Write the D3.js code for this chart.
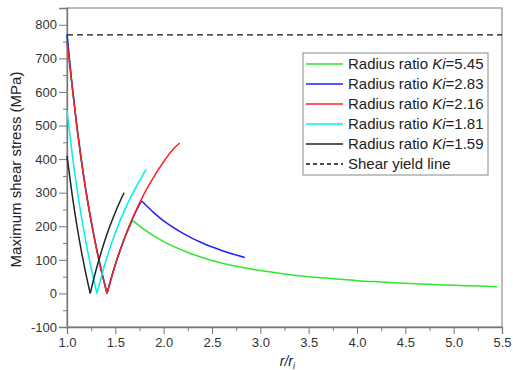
<!DOCTYPE html>
<html>
<head>
<meta charset="utf-8">
<script src="https://cdn.jsdelivr.net/npm/d3@7"></script>
<style>
  body { margin: 0; background: #fff; }
  svg { font-family: "Liberation Sans", Arial, sans-serif; }
  .axis path, .axis line { stroke: #777; }
  .axis text { fill: #333; font-size: 13px; }
</style>
</head>
<body>
<svg id="chart" width="513" height="370"></svg>
<script>
// values
var seriesNames = ["5.45", "2.83", "2.16", "1.81", "1.59"];
var seriesColors = ["#2ee62e", "#1f1fff", "#ff2020", "#00f0f0", "#222222"];

var x545 = [1.0, 1.05, 1.1, 1.15, 1.2, 1.25, 1.3, 1.35, 1.414, 1.5, 1.6, 1.68, 1.8, 2.0, 2.25, 2.5, 2.75, 3.0, 3.25, 3.5, 3.75, 4.0, 4.25, 4.5, 4.75, 5.0, 5.25, 5.45];
var y545 = [768, 627, 503, 394, 299, 216, 141, 75, 0, 86, 168, 217, 190, 154, 122, 98, 81, 68, 58, 50, 44, 38, 34, 30, 27, 24, 22, 20];

var x283 = [1.0, 1.05, 1.1, 1.15, 1.2, 1.25, 1.3, 1.35, 1.414, 1.5, 1.6, 1.7, 1.77, 1.9, 2.0, 2.2, 2.4, 2.6, 2.84];
var y283 = [771, 627, 503, 394, 299, 216, 141, 75, 0, 86, 168, 237, 276, 240, 216, 179, 150, 128, 107];

var x216 = [1.0, 1.05, 1.1, 1.15, 1.2, 1.25, 1.3, 1.35, 1.414, 1.5, 1.6, 1.7, 1.8, 1.9, 2.0, 2.1, 2.165];
var y216 = [748, 625, 500, 392, 297, 214, 140, 74, 0, 86, 168, 238, 298, 348, 392, 430, 448];

var x181 = [1.0, 1.05, 1.1, 1.15, 1.2, 1.25, 1.31, 1.4, 1.5, 1.6, 1.7, 1.82];
var y181 = [545, 424, 318, 227, 146, 75, 0, 95, 181, 251, 309, 370];

var x159 = [1.0, 1.05, 1.1, 1.15, 1.2, 1.24, 1.3, 1.35, 1.4, 1.45, 1.5, 1.59];
var y159 = [410, 301, 206, 124, 52, 0, 69, 119, 165, 205, 242, 300];

var yieldStress = 770;

var xTicks = [1.0, 1.5, 2.0, 2.5, 3.0, 3.5, 4.0, 4.5, 5.0, 5.5];
var yTicks = [-100, 0, 100, 200, 300, 400, 500, 600, 700, 800];

var svg = d3.select("#chart"),
    margin = {top: 8, right: 11, bottom: 43, left: 67},
    width = +svg.attr("width") - margin.left - margin.right,
    height = +svg.attr("height") - margin.top - margin.bottom;

var x = d3.scaleLinear().domain([1.0, 5.5]).range([0, width]),
    y = d3.scaleLinear().domain([-100, 850]).range([height, 0]);

var g = svg.append("g")
    .attr("transform", "translate(" + margin.left + "," + margin.top + ")");

// frame
g.append("rect")
    .attr("width", width)
    .attr("height", height)
    .attr("fill", "none")
    .attr("stroke", "#999")
    .attr("stroke-width", 1.3);

// minor ticks
var xMinor = d3.range(1.25, 5.5, 0.5);
var yMinor = d3.range(-50, 850, 100);

g.append("g")
    .attr("class", "axis")
    .attr("transform", "translate(0," + height + ")")
    .call(d3.axisBottom(x).tickValues(xMinor).tickSize(4).tickFormat(""))
    .select(".domain").remove();

g.append("g")
    .attr("class", "axis")
    .call(d3.axisLeft(y).tickValues(yMinor).tickSize(4).tickFormat(""))
    .select(".domain").remove();

g.append("g")
    .attr("class", "axis")
    .attr("transform", "translate(0," + height + ")")
    .call(d3.axisBottom(x).tickValues(xTicks).tickSize(7).tickPadding(4).tickFormat(d3.format(".1f")))
    .select(".domain").attr("stroke-width", 1.3);

// plain hyphen for negatives, like the original
g.append("g")
    .attr("class", "axis")
    .call(d3.axisLeft(y).tickValues(yTicks).tickSize(8).tickPadding(2)
        .tickFormat(function (d) { return String(d); }))
    .select(".domain").attr("stroke-width", 1.3);

// axis titles
svg.append("text")
    .attr("transform", "translate(21," + (margin.top + height / 2 + 2) + ") rotate(-90)")
    .attr("text-anchor", "middle")
    .attr("fill", "#222")
    .style("font-size", "15px")
    .text("Maximum shear stress (MPa)");

var xt = svg.append("text")
    .attr("x", margin.left + x(3.28))
    .attr("y", 366)
    .attr("text-anchor", "middle")
    .attr("fill", "#222")
    .style("font-size", "14px")
    .style("font-style", "italic");
xt.append("tspan").text("r/r");
xt.append("tspan").attr("dy", 3).style("font-size", "9px").text("i");

// shear yield line
g.append("line")
    .attr("x1", 0)
    .attr("x2", width)
    .attr("y1", y(yieldStress))
    .attr("y2", y(yieldStress))
    .attr("stroke", "#111")
    .attr("stroke-width", 1.3)
    .attr("stroke-dasharray", "6,4");

// series, split into monotone pieces so the V corners stay sharp
var allX = [x545, x283, x216, x181, x159];
var allY = [y545, y283, y216, y181, y159];

var line = d3.line()
    .x(function (d) { return x(d[0]); })
    .y(function (d) { return y(d[1]); })
    .curve(d3.curveMonotoneX);

function pieces(xs, ys) {
    var out = [], cur = [[xs[0], ys[0]]], dir = 0;
    for (var i = 1; i < xs.length; i++) {
        var d = Math.sign(ys[i] - ys[i - 1]);
        if (dir !== 0 && d !== dir) {
            out.push(cur);
            cur = [[xs[i - 1], ys[i - 1]]];
        }
        dir = d;
        cur.push([xs[i], ys[i]]);
    }
    out.push(cur);
    return out;
}

allX.forEach(function (xs, i) {
    pieces(xs, allY[i]).forEach(function (p) {
        g.append("path")
            .datum(p)
            .attr("fill", "none")
            .attr("stroke", seriesColors[i])
            .attr("stroke-width", 1.5)
            .attr("d", line);
    });
});

// legend
var legend = svg.append("g").attr("transform", "translate(303,53)");
legend.append("rect")
    .attr("width", 185)
    .attr("height", 122)
    .attr("fill", "#fff")
    .attr("stroke", "#888")
    .attr("stroke-width", 1);

var rows = seriesNames.concat(["yield"]);
rows.forEach(function (name, i) {
    var row = legend.append("g").attr("transform", "translate(0," + (11 + i * 20) + ")");
    row.append("line")
        .attr("x1", 3)
        .attr("x2", 40)
        .attr("stroke", name === "yield" ? "#111" : seriesColors[i])
        .attr("stroke-width", 1.5)
        .attr("stroke-dasharray", name === "yield" ? "4,3" : null);
    var t = row.append("text")
        .attr("x", 45)
        .attr("y", 5)
        .attr("fill", "#222")
        .style("font-size", "15px");
    if (name === "yield") {
        t.text("Shear yield line");
    } else {
        t.append("tspan").text("Radius ratio ");
        t.append("tspan").style("font-style", "italic").text("Ki");
        t.append("tspan").text("=" + name);
    }
});
</script>
</body>
</html>
